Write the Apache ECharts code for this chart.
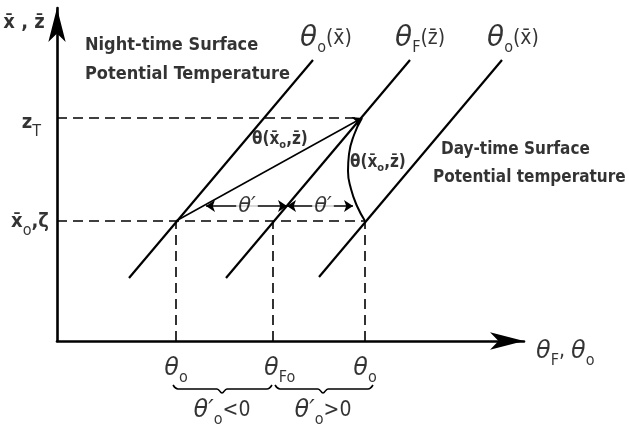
<!DOCTYPE html>
<html>
<head>
<meta charset="utf-8">
<script src="https://cdn.jsdelivr.net/npm/echarts@6/dist/echarts.min.js"></script>
<style>
html, body { margin: 0; padding: 0; background: #fff; }
#chart { width: 629px; height: 432px; }
</style>
</head>
<body>
<div id="chart"></div>
<script>
// reference levels (theta horizontal, height vertical, arbitrary units)
const zT = 223;
const zeta = 120;
const theta0Night = 119;
const thetaF0 = 216;
const theta0Day = 308;

// potential temperature profiles
const nightProfile = [[72, 63], [256, 281]];
const fProfile = [[169, 63], [353, 281]];
const dayProfile = [[262, 64], [445, 281]];
const dayCurve = [[305, 223], [297, 206], [292, 187], [291, 170], [294, 152], [300, 135], [308, 120]];
const nightArrow = [[theta0Night, zeta], [305, 223]];
const thetaPrimeLeft = [[149, 135], [230, 135]];
const thetaPrimeRight = [[230, 135], [296, 135]];
const leftBrace = [[116, -44], [121, -48], [160, -48], [165, -52], [170, -48], [210, -48], [215, -44]];
const rightBrace = [[218, -44], [223, -48], [261, -48], [266, -52], [271, -48], [311, -48], [316, -44]];

// annotations: anchor, text, alignment
const notes = [
    { at: [-33, 318], text: '{n|x̄ , z̄}', align: 'center' },
    { at: [26, 296], text: '{t|Night-time Surface}', align: 'left' },
    { at: [26, 267], text: '{t|Potential Temperature}', align: 'left' },
    { at: [241, 302], text: '{g|θ}{sub|o}{n2|(x̄)}', align: 'left' },
    { at: [336, 302], text: '{g|θ}{sub|F}{n2|(z̄)}', align: 'left' },
    { at: [428, 302], text: '{g|θ}{sub|o}{n2|(x̄)}', align: 'left' },
    { at: [-14, 218], text: '{n|z}{sub|T}', align: 'right' },
    { at: [-6, 119], text: '{n|x̄}{sub|o}{n|,ζ}', align: 'right' },
    { at: [193, 201], text: '{m|θ(x̄}{ms|o}{m|,z̄)}', align: 'left' },
    { at: [291, 178], text: '{m|θ(x̄}{ms|o}{m|,z̄)}', align: 'left' },
    { at: [190, 134], text: '{p|θ′}', align: 'center' },
    { at: [266, 134], text: '{p|θ′}', align: 'center' },
    { at: [382, 191], text: '{t2|Day-time Surface}', align: 'left' },
    { at: [374, 163], text: '{t2|Potential temperature}', align: 'left' },
    { at: [477, -11], text: '{b|θ}{sub|F}{n2|, }{b|θ}{sub|o}', align: 'left' },
    { at: [theta0Night, -28], text: '{b|θ}{sub|o}', align: 'center' },
    { at: [205, -28], text: '{b|θ}{sub|Fo}', align: 'left' },
    { at: [theta0Day, -28], text: '{b|θ}{sub|o}', align: 'center' },
    { at: [165, -70], text: '{b|θ′}{sub|o}{n2|<0}', align: 'center' },
    { at: [266, -70], text: '{b|θ′}{sub|o}{n2|>0}', align: 'center' }
];

const font = '"DejaVu Sans Condensed", "Liberation Sans Narrow", "DejaVu Sans"';
const greek = '"DejaVu Sans"';
const black = '#000';

const solid = (data, w) => ({
    type: 'line', data: data, symbol: 'none', clip: false, silent: true,
    lineStyle: { color: black, width: w }
});
const dashed = (data) => ({
    type: 'line', data: data, symbol: 'none', clip: false, silent: true,
    lineStyle: { color: black, width: 1.6, type: [10, 6] }
});
const arrow = (coords, ends) => ({
    type: 'lines', coordinateSystem: 'cartesian2d', silent: true,
    symbol: ends, symbolSize: 9,
    data: [{ coords: coords }],
    lineStyle: { color: black, width: 1.5, opacity: 1 }
});

const chart = echarts.init(document.getElementById('chart'));
chart.setOption({
    animation: false,
    backgroundColor: '#fff',
    grid: { left: 57, top: 8, right: 105, bottom: 91 },
    xAxis: {
        type: 'value', min: 0, max: 467,
        axisLine: {
            show: true, symbol: ['none', 'arrow'], symbolSize: [13, 34],
            lineStyle: { color: black, width: 2.6 }
        },
        axisTick: { show: false }, axisLabel: { show: false }, splitLine: { show: false }
    },
    yAxis: {
        type: 'value', min: 0, max: 333,
        axisLine: {
            show: true, symbol: ['none', 'arrow'], symbolSize: [13, 34],
            lineStyle: { color: black, width: 2.6 }
        },
        axisTick: { show: false }, axisLabel: { show: false }, splitLine: { show: false }
    },
    series: [
        solid(nightProfile, 2.2),
        solid(fProfile, 2.2),
        solid(dayProfile, 2.2),
        Object.assign(solid(dayCurve, 2), { smooth: 0.5 }),
        dashed([[0, zT], [305, zT]]),
        dashed([[0, zeta], [theta0Day, zeta]]),
        dashed([[theta0Night, 0], [theta0Night, zeta]]),
        dashed([[thetaF0, 0], [thetaF0, zeta]]),
        dashed([[theta0Day, 0], [theta0Day, zeta]]),
        arrow(nightArrow, ['none', 'arrow']),
        arrow(thetaPrimeLeft, ['arrow', 'arrow']),
        arrow(thetaPrimeRight, ['arrow', 'arrow']),
        Object.assign(solid(leftBrace, 1.6), { smooth: 0.4 }),
        Object.assign(solid(rightBrace, 1.6), { smooth: 0.4 }),
        {
            type: 'scatter', clip: false, silent: true, symbolSize: 1,
            itemStyle: { color: 'rgba(0,0,0,0)' },
            data: notes.map(n => ({
                value: n.at,
                label: {
                    show: true, position: 'inside', align: n.align, verticalAlign: 'middle',
                    formatter: n.text, color: black,
                    backgroundColor: n.text.indexOf('{p|') === 0 ? '#fff' : 'transparent',
                    padding: [0, 2],
                    rich: {
                        t: { fontFamily: font, fontSize: 18, fontWeight: 'bold', color: black, lineHeight: 26 },
                        t2: { fontFamily: font, fontSize: 17, fontWeight: 'bold', color: black, lineHeight: 26 },
                        n: { fontFamily: font, fontSize: 20, fontWeight: 'bold', color: black, lineHeight: 28 },
                        n2: { fontFamily: font, fontSize: 21, color: black, lineHeight: 34 },
                        g: { fontFamily: greek, fontSize: 28, fontStyle: 'italic', color: black, lineHeight: 34 },
                        b: { fontFamily: greek, fontSize: 24, fontStyle: 'italic', color: black, lineHeight: 34 },
                        sub: { fontFamily: font, fontSize: 16, color: black, lineHeight: 34, verticalAlign: 'bottom' },
                        m: { fontFamily: font, fontSize: 17, fontWeight: 'bold', color: black, lineHeight: 22 },
                        ms: { fontFamily: font, fontSize: 11, fontWeight: 'bold', color: black, lineHeight: 22, verticalAlign: 'bottom' },
                        p: { fontFamily: greek, fontSize: 21, fontStyle: 'italic', color: black, lineHeight: 22 }
                    }
                }
            }))
        }
    ]
});
</script>
</body>
</html>
